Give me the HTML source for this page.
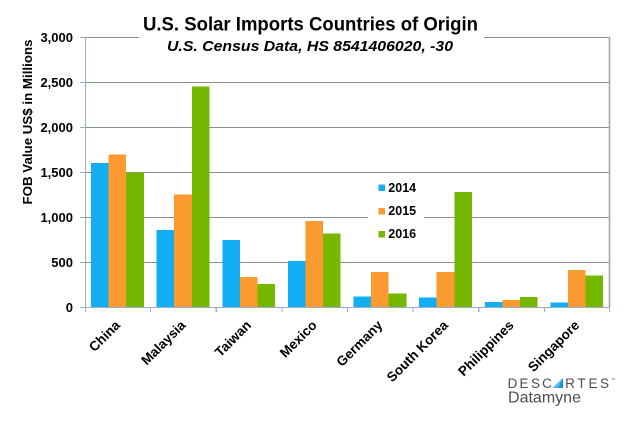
<!DOCTYPE html>
<html>
<head>
<meta charset="utf-8">
<style>
  html,body{margin:0;padding:0;background:#fff;}
  svg{display:block;}
  text{font-family:"Liberation Sans",Arial,sans-serif;}
</style>
</head>
<body>
<svg width="640" height="437" viewBox="0 0 640 437" xmlns="http://www.w3.org/2000/svg">
  <rect x="0" y="0" width="640" height="437" fill="#fff"/>

  <!-- gridlines -->
  <g stroke="#8e8e8e" stroke-width="1" shape-rendering="crispEdges">
    <line x1="85" y1="37.5" x2="610" y2="37.5"/>
    <line x1="85" y1="82.5" x2="610" y2="82.5"/>
    <line x1="85" y1="127.5" x2="610" y2="127.5"/>
    <line x1="85" y1="172.5" x2="610" y2="172.5"/>
    <line x1="85" y1="217.5" x2="610" y2="217.5"/>
    <line x1="85" y1="262.5" x2="610" y2="262.5"/>
  </g>
  <!-- right border -->
  <line x1="609.5" y1="37" x2="609.5" y2="307" stroke="#a6a6a6" stroke-width="1.6"/>

  <!-- bars -->
  <g shape-rendering="crispEdges">
    <rect x="91" y="163" width="17.6" height="144" fill="#12adf3"/>
    <rect x="108.6" y="154.5" width="17.6" height="152.5" fill="#fb9a2e"/>
    <rect x="126.2" y="172.5" width="17.6" height="134.5" fill="#76b800"/>
    <rect x="156.6" y="230" width="17.6" height="77" fill="#12adf3"/>
    <rect x="174.2" y="194.3" width="17.6" height="112.7" fill="#fb9a2e"/>
    <rect x="191.8" y="86.7" width="17.6" height="220.3" fill="#76b800"/>
    <rect x="222.3" y="240" width="17.6" height="67" fill="#12adf3"/>
    <rect x="239.9" y="277" width="17.6" height="30" fill="#fb9a2e"/>
    <rect x="257.5" y="283.8" width="17.6" height="23.2" fill="#76b800"/>
    <rect x="287.9" y="261" width="17.6" height="46" fill="#12adf3"/>
    <rect x="305.5" y="221" width="17.6" height="86" fill="#fb9a2e"/>
    <rect x="323.1" y="233.5" width="17.6" height="73.5" fill="#76b800"/>
    <rect x="353.5" y="296.7" width="17.6" height="10.3" fill="#12adf3"/>
    <rect x="371.1" y="272.2" width="17.6" height="34.8" fill="#fb9a2e"/>
    <rect x="388.7" y="293.3" width="17.6" height="13.7" fill="#76b800"/>
    <rect x="419.1" y="297.6" width="17.6" height="9.4" fill="#12adf3"/>
    <rect x="436.7" y="272" width="17.6" height="35" fill="#fb9a2e"/>
    <rect x="454.3" y="192" width="17.6" height="115" fill="#76b800"/>
    <rect x="484.8" y="302" width="17.6" height="5" fill="#12adf3"/>
    <rect x="502.4" y="300" width="17.6" height="7" fill="#fb9a2e"/>
    <rect x="520" y="297" width="17.6" height="10" fill="#76b800"/>
    <rect x="550.4" y="302.7" width="17.6" height="4.3" fill="#12adf3"/>
    <rect x="568" y="270" width="17.6" height="37" fill="#fb9a2e"/>
    <rect x="585.6" y="275.5" width="17.6" height="31.5" fill="#76b800"/>
  </g>

  <!-- axes -->
  <g stroke="#98aecb" stroke-width="1.2" shape-rendering="crispEdges">
    <line x1="85.5" y1="37" x2="85.5" y2="307"/>
    <line x1="85" y1="307.5" x2="610" y2="307.5"/>
    <line x1="80" y1="37.5" x2="85" y2="37.5"/>
    <line x1="80" y1="82.5" x2="85" y2="82.5"/>
    <line x1="80" y1="127.5" x2="85" y2="127.5"/>
    <line x1="80" y1="172.5" x2="85" y2="172.5"/>
    <line x1="80" y1="217.5" x2="85" y2="217.5"/>
    <line x1="80" y1="262.5" x2="85" y2="262.5"/>
    <line x1="80" y1="307.5" x2="85" y2="307.5"/>
    <line x1="85.5" y1="307" x2="85.5" y2="312"/>
    <line x1="150.6" y1="307" x2="150.6" y2="312"/>
    <line x1="216.3" y1="307" x2="216.3" y2="312"/>
    <line x1="281.9" y1="307" x2="281.9" y2="312"/>
    <line x1="347.5" y1="307" x2="347.5" y2="312"/>
    <line x1="413.1" y1="307" x2="413.1" y2="312"/>
    <line x1="478.8" y1="307" x2="478.8" y2="312"/>
    <line x1="544.4" y1="307" x2="544.4" y2="312"/>
    <line x1="609.5" y1="307" x2="609.5" y2="312"/>
  </g>

  <!-- y labels -->
  <g font-size="13" font-weight="bold" fill="#000" text-anchor="end">
    <text x="73" y="42">3,000</text>
    <text x="73" y="87">2,500</text>
    <text x="73" y="132">2,000</text>
    <text x="73" y="177">1,500</text>
    <text x="73" y="222">1,000</text>
    <text x="73" y="267">500</text>
    <text x="73" y="312">0</text>
  </g>

  <!-- y title -->
  <text x="0" y="0" font-size="13" font-weight="bold" fill="#000" text-anchor="middle"
        textLength="165" lengthAdjust="spacingAndGlyphs"
        transform="translate(32,122) rotate(-90)">FOB Value US$ in Millions</text>

  <!-- x labels -->
  <g font-size="13.5" font-weight="bold" fill="#000" text-anchor="end">
    <text transform="translate(121,326) rotate(-45)">China</text>
    <text transform="translate(186.5,326) rotate(-45)">Malaysia</text>
    <text transform="translate(252,326) rotate(-45)">Taiwan</text>
    <text transform="translate(317.7,326) rotate(-45)">Mexico</text>
    <text transform="translate(383.3,326) rotate(-45)">Germany</text>
    <text transform="translate(449,326) rotate(-45)">South Korea</text>
    <text transform="translate(514.6,326) rotate(-45)">Philippines</text>
    <text transform="translate(580.2,326) rotate(-45)">Singapore</text>
  </g>

  <!-- legend -->
  <rect x="368" y="180" width="56" height="62" fill="#fff"/>
  <rect x="378.5" y="184.5" width="6.5" height="6.5" fill="#12adf3"/>
  <rect x="378.5" y="208" width="6.5" height="6.5" fill="#fb9a2e"/>
  <rect x="378.5" y="231" width="6.5" height="6.5" fill="#76b800"/>
  <g font-size="12.5" font-weight="bold" fill="#000">
    <text x="388.3" y="191.9">2014</text>
    <text x="388.3" y="215.2">2015</text>
    <text x="388.3" y="237.9">2016</text>
  </g>

  <!-- title -->
  <rect x="139" y="30" width="345" height="14" fill="#fff"/>
  <text x="143" y="30.5" font-size="19" font-weight="bold" fill="#000" textLength="335" lengthAdjust="spacingAndGlyphs">U.S. Solar Imports Countries of Origin</text>
  <text x="167" y="51" font-size="15" font-weight="bold" font-style="italic" fill="#000" textLength="286" lengthAdjust="spacingAndGlyphs">U.S. Census Data, HS 8541406020, -30</text>

  <!-- logo -->
  <g fill="#4d4d4d" font-size="13.5" text-anchor="middle">
    <text x="512.5" y="388">D</text>
    <text x="524" y="388">E</text>
    <text x="535.5" y="388">S</text>
    <text x="547" y="388">C</text>
    <text x="570" y="388">R</text>
    <text x="581.5" y="388">T</text>
    <text x="593" y="388">E</text>
    <text x="604.5" y="388">S</text>
  </g>
  <polygon points="552.5,388 563,378 563,388" fill="#1d8fd8"/>
  <polygon points="552.5,388 563,378 558,388" fill="#5ab6ef"/>
  <text x="611" y="381" font-size="4" fill="#555">™</text>
  <text x="508" y="402.5" font-size="16" fill="#4d4d4d" textLength="73" lengthAdjust="spacingAndGlyphs">Datamyne</text>
</svg>
</body>
</html>
